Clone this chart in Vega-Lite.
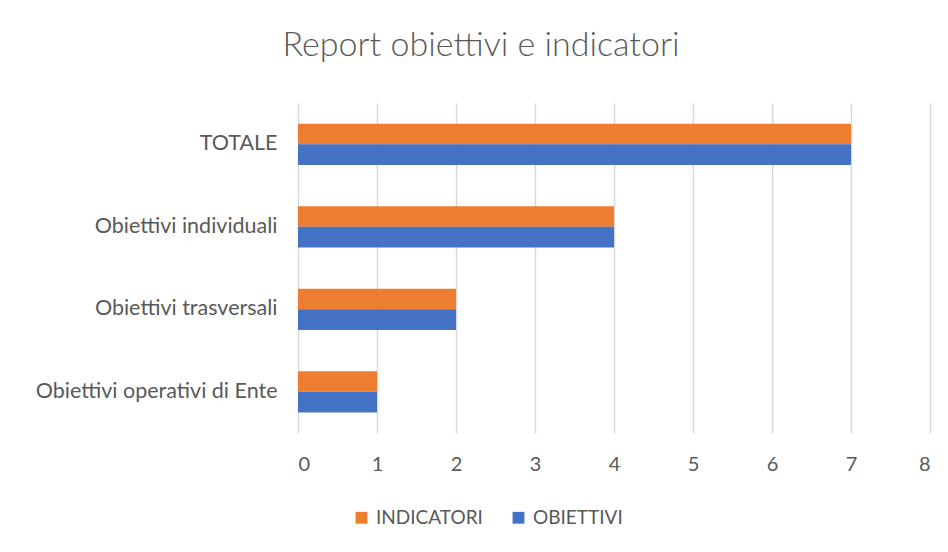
{
  "$schema": "https://vega.github.io/schema/vega-lite/v6.json",
  "width": 632,
  "height": 330,
  "autosize": {"type": "none"},
  "padding": {"left": 298, "top": 103, "right": 18, "bottom": 119},
  "background": "white",
  "title": {
    "text": "Report obiettivi e indicatori",
    "anchor": "middle",
    "frame": "group",
    "dx": -133,
    "offset": 40,
    "fontSize": 34,
    "font": "Lato",
    "fontWeight": 300,
    "color": "#595959"
  },
  "data": {
    "values": [
      {"categoria": "TOTALE", "serie": "INDICATORI", "valore": 7},
      {"categoria": "TOTALE", "serie": "OBIETTIVI", "valore": 7},
      {"categoria": "Obiettivi individuali", "serie": "INDICATORI", "valore": 4},
      {"categoria": "Obiettivi individuali", "serie": "OBIETTIVI", "valore": 4},
      {"categoria": "Obiettivi trasversali", "serie": "INDICATORI", "valore": 2},
      {"categoria": "Obiettivi trasversali", "serie": "OBIETTIVI", "valore": 2},
      {"categoria": "Obiettivi operativi di Ente", "serie": "INDICATORI", "valore": 1},
      {"categoria": "Obiettivi operativi di Ente", "serie": "OBIETTIVI", "valore": 1}
    ]
  },
  "mark": {"type": "bar"},
  "encoding": {
    "y": {
      "field": "categoria",
      "type": "nominal",
      "sort": ["TOTALE", "Obiettivi individuali", "Obiettivi trasversali", "Obiettivi operativi di Ente"],
      "scale": {"paddingInner": 0.5, "paddingOuter": 0.25},
      "axis": {
        "title": null,
        "domain": false,
        "ticks": false,
        "labelPadding": 21,
        "labelLimit": 320,
        "labelFontSize": 21.5,
        "labelFont": "Lato",
        "labelColor": "#595959"
      }
    },
    "yOffset": {
      "field": "serie",
      "type": "nominal",
      "sort": ["INDICATORI", "OBIETTIVI"],
      "scale": {"paddingInner": 0, "paddingOuter": 0}
    },
    "x": {
      "field": "valore",
      "type": "quantitative",
      "scale": {"domain": [0, 8], "nice": false},
      "axis": {
        "title": null,
        "domain": false,
        "ticks": false,
        "values": [0, 1, 2, 3, 4, 5, 6, 7, 8],
        "labelOverlap": false,
        "grid": true,
        "gridColor": "#d9d9d9",
        "gridWidth": 1.5,
        "labelPadding": 21,
        "labelFontSize": 20,
        "labelFont": "Lato",
        "labelColor": "#595959"
      }
    },
    "color": {
      "field": "serie",
      "type": "nominal",
      "sort": ["INDICATORI", "OBIETTIVI"],
      "scale": {"domain": ["INDICATORI", "OBIETTIVI"], "range": ["#ED7D31", "#4472C4"]},
      "legend": {
        "title": null,
        "orient": "none",
        "direction": "horizontal",
        "legendX": 54,
        "legendY": 405,
        "symbolType": "square",
        "symbolSize": 140,
        "symbolStrokeWidth": 0,
        "labelFontSize": 19,
        "labelFont": "Lato",
        "labelColor": "#595959",
        "labelOffset": 5,
        "columnPadding": 26
      }
    }
  },
  "config": {
    "view": {"stroke": null}
  }
}
